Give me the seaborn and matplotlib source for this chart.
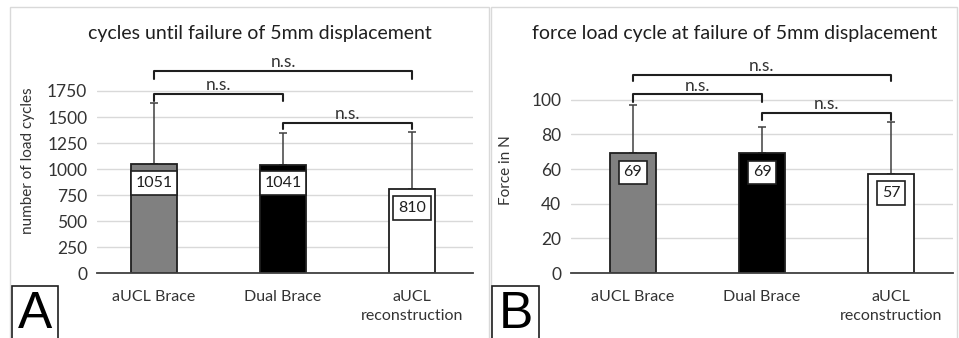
import numpy as np
import pandas as pd
import matplotlib
matplotlib.use("Agg")
import matplotlib.pyplot as plt
from matplotlib.patches import Rectangle
import seaborn as sns

# ---------------- data ----------------
groups = ["aUCL Brace", "Dual Brace", "aUCL\nreconstruction"]
cycles_mean = [1051, 1041, 810]
cycles_sd = [584, 305, 546]
force_mean = [69, 69, 57]
force_sd = [28, 15, 30]
bar_colors = ["#808080", "#000000", "#ffffff"]
cycles_ticks = [0, 250, 500, 750, 1000, 1250, 1500, 1750]
force_ticks = [0, 20, 40, 60, 80, 100]
cycles_label_y = [865, 865, 625]
force_label_y = [58, 58, 46]
# (from, to, bracket top, bracket drop)
cycles_brackets = [(0, 2, 1942, 1862), (0, 1, 1721, 1655), (1, 2, 1442, 1385)]
force_brackets = [(0, 2, 114.5, 110.5), (0, 1, 103, 98.5), (1, 2, 92.5, 88.5)]
bracket_text = "n.s."

# ---------------- style ----------------
sns.set_theme(style="white")
plt.rcParams['font.family'] = ['Lato', 'DejaVu Sans']

W, H = 959, 338
fig = plt.figure(figsize=(W / 100, H / 100), dpi=100)
fig.patch.set_facecolor("white")

TXT = "#333333"
DARK = "#1f1f1f"


def px_rect(x0, y0, x1, y1):
    """pixel box (top-left origin) -> figure fraction [l, b, w, h]"""
    return [x0 / W, 1 - y1 / H, (x1 - x0) / W, (y1 - y0) / H]


def panel(ax, values, sd, ticks, ylim, xlim, label_y, brackets, ylabel,
          ylabel_pos, fmt):
    df = pd.DataFrame({"group": groups, "value": values})
    sns.barplot(data=df, x="group", y="value", hue="group",
                palette=bar_colors, width=0.35, edgecolor=DARK,
                linewidth=1.3, legend=False, ax=ax, zorder=3,
                errorbar=None)
    ax.errorbar(np.arange(len(values)), values,
                yerr=[np.zeros(len(values)), sd], fmt="none",
                ecolor="#404040", elinewidth=1.1, capsize=3,
                capthick=1.1, zorder=2)
    ax.set_ylim(*ylim)
    ax.set_xlim(*xlim)
    ax.set_yticks(ticks)
    ax.yaxis.grid(True, color="#d9d9d9", lw=1)
    ax.set_axisbelow(True)
    for s in ["top", "right", "left"]:
        ax.spines[s].set_visible(False)
    ax.spines["bottom"].set_color("#404040")
    ax.spines["bottom"].set_linewidth(1.3)
    ax.spines["bottom"].set_zorder(4)
    ax.tick_params(axis="y", length=0, labelsize=12.5, labelcolor=TXT, pad=7)
    ax.tick_params(axis="x", length=0, labelsize=11.5, labelcolor=TXT, pad=12)
    for lbl in ax.get_xticklabels():
        lbl.set_linespacing(1.5)
    ax.set_xlabel("")
    ax.set_ylabel(ylabel, fontsize=11, color=TXT)
    ax.yaxis.set_label_coords(*ylabel_pos)

    for i, (v, ly) in enumerate(zip(values, label_y)):
        ax.text(i, ly, fmt(v), ha="center", va="center", fontsize=11.5,
                color=DARK, zorder=5,
                bbox=dict(boxstyle="square,pad=0.3", fc="white",
                          ec=DARK, lw=1.2))

    for x0, x1, top, drop in brackets:
        ax.plot([x0, x0, x1, x1], [drop, top, top, drop], color=DARK,
                lw=1.5, clip_on=False, zorder=5)
        ax.annotate(bracket_text, xy=((x0 + x1) / 2, top),
                    xytext=(0, 0.5), textcoords="offset points",
                    ha="center", va="bottom", fontsize=12.5, color=TXT,
                    annotation_clip=False)


# panel frames
for (x0, y0, x1, y1) in [(10, 7, 489, 340), (491, 7, 957, 340)]:
    fig.add_artist(Rectangle((x0 / W, 1 - y1 / H), (x1 - x0) / W,
                             (y1 - y0) / H, transform=fig.transFigure,
                             fill=False, ec="#d9d9d9", lw=1))

axA = fig.add_axes(px_rect(97, 65, 473, 273))
panel(axA, cycles_mean, cycles_sd, cycles_ticks, (0, 2000),
      ((97 - 154) / 129, (473 - 154) / 129), cycles_label_y,
      cycles_brackets, "number of load cycles", (-0.165, 0.54),
      lambda v: f"{v}")

axB = fig.add_axes(px_rect(571, 65, 953, 273))
panel(axB, force_mean, force_sd, force_ticks, (0, 120),
      ((571 - 633) / 129, (953 - 633) / 129), force_label_y,
      force_brackets, "Force in N", (-0.152, 0.495), lambda v: f"{v}")

fig.text(260 / W, 1 - 33 / H, "cycles until failure of 5mm displacement",
         ha="center", va="center", fontsize=14, color=DARK)
fig.text(735 / W, 1 - 33 / H, "force load cycle at failure of 5mm displacement",
         ha="center", va="center", fontsize=14, color=DARK)

# panel letters
for (x0, x1, letter) in [(12, 58, "A"), (492, 539, "B")]:
    fig.add_artist(Rectangle((x0 / W, -0.02), (x1 - x0) / W,
                             (H - 286) / H + 0.02, transform=fig.transFigure,
                             fill=True, fc="white", ec=DARK, lw=1.2))
    fig.text((x0 + x1) / 2 / W, 1 - 314 / H, letter, ha="center",
             va="center", fontsize=37, color="black",
             family=["Liberation Sans", "DejaVu Sans"])

fig.savefig("out.png", dpi=100, facecolor="white")
